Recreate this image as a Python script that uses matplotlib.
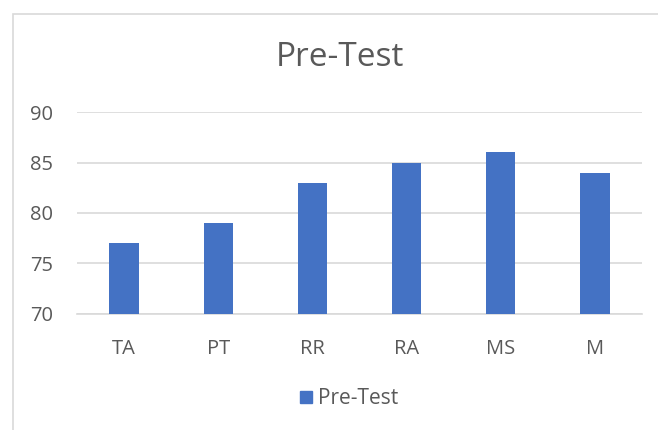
import matplotlib
matplotlib.use("Agg")
import matplotlib.pyplot as plt
from matplotlib.patches import Rectangle
from matplotlib.lines import Line2D

categories = ["TA", "PT", "RR", "RA", "MS", "M"]
pre_test = [77, 79, 83, 85, 86, 84]
y_ticks = [70, 75, 80, 85, 90]

BAR_COLOR = "#4472C4"
GRID_COLOR = "#D9D9D9"
TEXT_COLOR = "#595959"

plt.rcParams["font.family"] = ["Open Sans", "DejaVu Sans"]

fig = plt.figure(figsize=(6.58, 4.30), dpi=100)
ax = fig.add_axes([77 / 658, 1 - 314 / 430, (642 - 77) / 658, (314 - 112) / 430])

# chart border (open on right/bottom like the crop)
fig.patches.append(Rectangle((13 / 658, -0.1), 1.2, 1 - 14 / 430 + 0.1,
                             transform=fig.transFigure, fill=False,
                             edgecolor=GRID_COLOR, lw=1.2))

x = range(len(categories))
ax.bar(x, pre_test, width=0.31, color=BAR_COLOR, zorder=3)

ax.set_ylim(70, 90)
ax.set_xlim(-0.5, len(categories) - 0.5)
ax.set_yticks(y_ticks)
ax.set_xticks(list(x))
ax.set_xticklabels(categories)
ax.grid(axis="y", color=GRID_COLOR, lw=1.2, zorder=0)
for name, spine in ax.spines.items():
    spine.set_visible(name == "bottom")
ax.spines["bottom"].set_color(GRID_COLOR)
ax.spines["bottom"].set_linewidth(1.2)
ax.tick_params(length=0, labelsize=14.5, colors=TEXT_COLOR)
ax.tick_params(axis="x", pad=18)
ax.tick_params(axis="y", pad=17)

fig.text(340 / 658, 1 - 57 / 430, "Pre-Test", ha="center", va="center",
         fontsize=24, color=TEXT_COLOR)

handle = Line2D([], [], marker="s", ls="", markersize=8, color=BAR_COLOR)
fig.legend([handle], ["Pre-Test"], loc="center", bbox_to_anchor=(346 / 658, 1 - 399 / 430),
           frameon=False, fontsize=15, labelcolor=TEXT_COLOR, handletextpad=0.0,
           handlelength=1.2)

fig.savefig("out.png", dpi=100)
